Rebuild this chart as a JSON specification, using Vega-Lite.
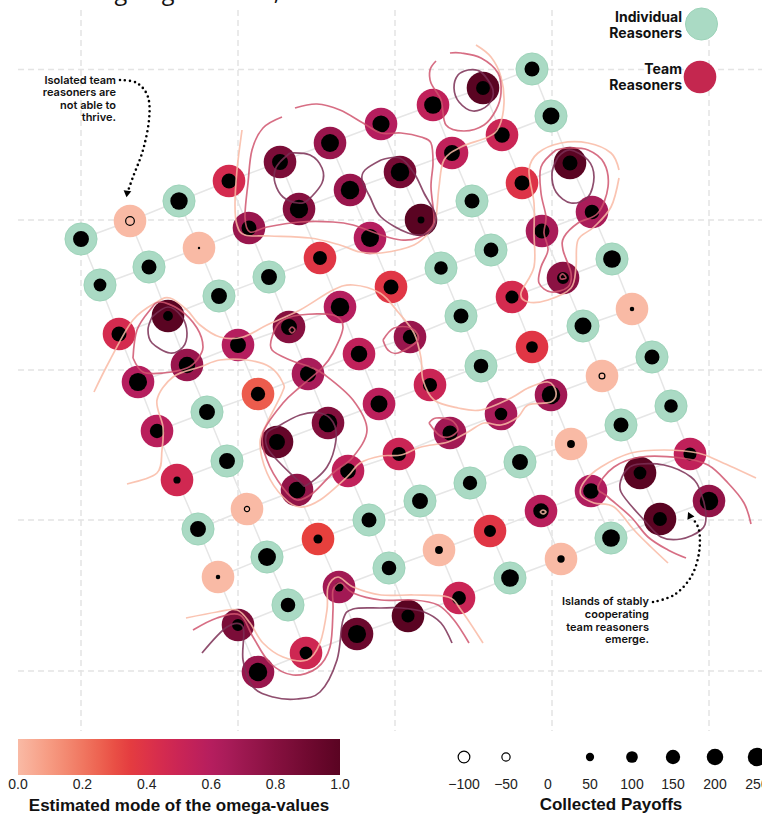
{"$schema":"https://vega.github.io/schema/vega-lite/v6.json","width":762,"height":815,"padding":0,"autosize":{"type":"none"},"background":"white","config":{"view":{"stroke":null},"font":"Liberation Sans"},
"datasets":{
"gridlines":[{"x":81,"y":10,"x2":81,"y2":731},{"x":238,"y":10,"x2":238,"y2":731},{"x":395,"y":10,"x2":395,"y2":731},{"x":552,"y":10,"x2":552,"y2":731},{"x":709,"y":10,"x2":709,"y2":731},{"x":18,"y":69.5,"x2":762,"y2":69.5},{"x":18,"y":220,"x2":762,"y2":220},{"x":18,"y":370,"x2":762,"y2":370},{"x":18,"y":520,"x2":762,"y2":520},{"x":18,"y":671,"x2":762,"y2":671}],
"nodes":[
{"i":0,"j":0,"x":81,"y":239,"t":"I","p":185},{"i":0,"j":1,"x":130,"y":221,"t":"T","o":0,"p":-55},{"i":0,"j":2,"x":179,"y":201,"t":"I","p":220},{"i":0,"j":3,"x":229,"y":181,"t":"T","o":0.45,"p":165},{"i":0,"j":4,"x":280,"y":162,"t":"T","o":0.85,"p":185},{"i":0,"j":5,"x":330,"y":143,"t":"T","o":0.72,"p":235},{"i":0,"j":6,"x":381,"y":124,"t":"T","o":0.6,"p":215},{"i":0,"j":7,"x":433,"y":105,"t":"T","o":0.55,"p":230},{"i":0,"j":8,"x":483,"y":88,"t":"T","o":1,"p":140},{"i":0,"j":9,"x":532,"y":69,"t":"I","p":165},
{"i":1,"j":0,"x":100,"y":285,"t":"I","p":120},{"i":1,"j":1,"x":149,"y":267,"t":"I","p":165},{"i":1,"j":2,"x":199,"y":248,"t":"T","o":0,"p":4},{"i":1,"j":3,"x":249,"y":228,"t":"T","o":0.72,"p":165},{"i":1,"j":4,"x":299,"y":209,"t":"T","o":0.8,"p":245},{"i":1,"j":5,"x":350,"y":190,"t":"T","o":0.72,"p":250},{"i":1,"j":6,"x":400,"y":172,"t":"T","o":0.87,"p":250},{"i":1,"j":7,"x":452,"y":153,"t":"T","o":0.55,"p":185},{"i":1,"j":8,"x":502,"y":135,"t":"T","o":0.5,"p":175},{"i":1,"j":9,"x":551,"y":116,"t":"I","p":210},
{"i":2,"j":0,"x":119,"y":334,"t":"T","o":0.45,"p":165},{"i":2,"j":1,"x":168,"y":316,"t":"T","o":1,"p":70},{"i":2,"j":2,"x":219,"y":296,"t":"I","p":185},{"i":2,"j":3,"x":269,"y":277,"t":"I","p":185},{"i":2,"j":4,"x":320,"y":258,"t":"T","o":0.38,"p":140},{"i":2,"j":5,"x":370,"y":238,"t":"T","o":0.6,"p":235},{"i":2,"j":6,"x":421,"y":220,"t":"T","o":1,"p":35},{"i":2,"j":7,"x":472,"y":201,"t":"I","p":165},{"i":2,"j":8,"x":522,"y":183,"t":"T","o":0.4,"p":165},{"i":2,"j":9,"x":570,"y":163,"t":"T","o":1,"p":165},
{"i":3,"j":0,"x":138,"y":382,"t":"T","o":0.6,"p":240},{"i":3,"j":1,"x":187,"y":365,"t":"T","o":0.72,"p":200},{"i":3,"j":2,"x":238,"y":345,"t":"T","o":0.6,"p":185},{"i":3,"j":3,"x":289,"y":327,"t":"T","o":0.8,"p":185},{"i":3,"j":4,"x":340,"y":307,"t":"T","o":0.6,"p":250},{"i":3,"j":5,"x":391,"y":287,"t":"T","o":0.38,"p":165},{"i":3,"j":6,"x":441,"y":268,"t":"I","p":135},{"i":3,"j":7,"x":491,"y":250,"t":"I","p":160},{"i":3,"j":8,"x":542,"y":231,"t":"T","o":0.65,"p":165},{"i":3,"j":9,"x":592,"y":212,"t":"T","o":0.65,"p":155},
{"i":4,"j":0,"x":157,"y":431,"t":"T","o":0.58,"p":150},{"i":4,"j":1,"x":207,"y":412,"t":"I","p":185},{"i":4,"j":2,"x":258,"y":394,"t":"T","o":0.27,"p":150},{"i":4,"j":3,"x":308,"y":374,"t":"T","o":0.65,"p":190},{"i":4,"j":4,"x":359,"y":354,"t":"T","o":0.55,"p":200},{"i":4,"j":5,"x":410,"y":337,"t":"T","o":0.72,"p":150},{"i":4,"j":6,"x":461,"y":316,"t":"I","p":165},{"i":4,"j":7,"x":512,"y":297,"t":"T","o":0.45,"p":125},{"i":4,"j":8,"x":563,"y":278,"t":"T","o":0.78,"p":105},{"i":4,"j":9,"x":612,"y":259,"t":"I","p":230},
{"i":5,"j":0,"x":177,"y":480,"t":"T","o":0.47,"p":38},{"i":5,"j":1,"x":227,"y":461,"t":"I","p":185},{"i":5,"j":2,"x":277,"y":442,"t":"T","o":0.95,"p":185},{"i":5,"j":3,"x":328,"y":423,"t":"T","o":0.82,"p":250},{"i":5,"j":4,"x":379,"y":404,"t":"T","o":0.57,"p":210},{"i":5,"j":5,"x":430,"y":385,"t":"T","o":0.5,"p":145},{"i":5,"j":6,"x":481,"y":366,"t":"I","p":155},{"i":5,"j":7,"x":532,"y":347,"t":"T","o":0.38,"p":100},{"i":5,"j":8,"x":583,"y":326,"t":"I","p":210},{"i":5,"j":9,"x":632,"y":309,"t":"T","o":0,"p":15},
{"i":6,"j":0,"x":198,"y":529,"t":"I","p":185},{"i":6,"j":1,"x":247,"y":509,"t":"T","o":0,"p":-20},{"i":6,"j":2,"x":297,"y":490,"t":"T","o":0.75,"p":205},{"i":6,"j":3,"x":348,"y":471,"t":"T","o":0.55,"p":180},{"i":6,"j":4,"x":399,"y":454,"t":"T","o":0.5,"p":145},{"i":6,"j":5,"x":450,"y":433,"t":"T","o":0.68,"p":165},{"i":6,"j":6,"x":501,"y":414,"t":"T","o":0.65,"p":115},{"i":6,"j":7,"x":551,"y":395,"t":"T","o":0.68,"p":250},{"i":6,"j":8,"x":602,"y":376,"t":"T","o":0,"p":-25},{"i":6,"j":9,"x":652,"y":357,"t":"I","p":165},
{"i":7,"j":0,"x":218,"y":577,"t":"T","o":0,"p":15},{"i":7,"j":1,"x":267,"y":557,"t":"I","p":235},{"i":7,"j":2,"x":318,"y":539,"t":"T","o":0.33,"p":60},{"i":7,"j":3,"x":369,"y":520,"t":"I","p":165},{"i":7,"j":4,"x":420,"y":501,"t":"I","p":185},{"i":7,"j":5,"x":470,"y":483,"t":"I","p":150},{"i":7,"j":6,"x":520,"y":462,"t":"I","p":185},{"i":7,"j":7,"x":571,"y":444,"t":"T","o":0,"p":45},{"i":7,"j":8,"x":621,"y":425,"t":"I","p":165},{"i":7,"j":9,"x":671,"y":406,"t":"I","p":135},
{"i":8,"j":0,"x":238,"y":625,"t":"T","o":0.85,"p":105},{"i":8,"j":1,"x":288,"y":605,"t":"I","p":155},{"i":8,"j":2,"x":339,"y":587,"t":"T","o":0.68,"p":60},{"i":8,"j":3,"x":389,"y":568,"t":"I","p":155},{"i":8,"j":4,"x":439,"y":550,"t":"T","o":0,"p":45},{"i":8,"j":5,"x":490,"y":531,"t":"T","o":0.38,"p":105},{"i":8,"j":6,"x":541,"y":511,"t":"T","o":0.58,"p":175},{"i":8,"j":7,"x":591,"y":491,"t":"T","o":0.62,"p":180},{"i":8,"j":8,"x":640,"y":473,"t":"T","o":1,"p":120},{"i":8,"j":9,"x":690,"y":454,"t":"T","o":0.55,"p":125},
{"i":9,"j":0,"x":258,"y":672,"t":"T","o":0.72,"p":250},{"i":9,"j":1,"x":306,"y":653,"t":"T","o":0.48,"p":120},{"i":9,"j":2,"x":357,"y":634,"t":"T","o":0.92,"p":240},{"i":9,"j":3,"x":408,"y":616,"t":"T","o":1,"p":125},{"i":9,"j":4,"x":459,"y":598,"t":"T","o":0.5,"p":140},{"i":9,"j":5,"x":510,"y":578,"t":"I","p":230},{"i":9,"j":6,"x":561,"y":559,"t":"T","o":0,"p":40},{"i":9,"j":7,"x":611,"y":538,"t":"I","p":230},{"i":9,"j":8,"x":660,"y":519,"t":"T","o":1,"p":140},{"i":9,"j":9,"x":709,"y":501,"t":"T","o":0.75,"p":250}],
"contours":[
{"id":"a","lev":"low","s":0,"x":242,"y":130},{"id":"a","lev":"low","s":1,"x":237,"y":170},{"id":"a","lev":"low","s":2,"x":235,"y":205},{"id":"a","lev":"low","s":3,"x":237,"y":225},{"id":"a","lev":"low","s":4,"x":245,"y":235},{"id":"a","lev":"low","s":5,"x":270,"y":236},{"id":"a","lev":"low","s":6,"x":310,"y":238},{"id":"a","lev":"low","s":7,"x":340,"y":245},{"id":"a","lev":"low","s":8,"x":360,"y":252},{"id":"a","lev":"low","s":9,"x":381,"y":253},{"id":"a","lev":"low","s":10,"x":414,"y":245},{"id":"a","lev":"low","s":11,"x":431,"y":230},{"id":"a","lev":"low","s":12,"x":436,"y":217},{"id":"a","lev":"low","s":13,"x":439,"y":187},{"id":"a","lev":"low","s":14,"x":444,"y":160},{"id":"a","lev":"low","s":15,"x":461,"y":147},{"id":"a","lev":"low","s":16,"x":488,"y":137},{"id":"a","lev":"low","s":17,"x":499,"y":127},{"id":"a","lev":"low","s":18,"x":504,"y":103},{"id":"a","lev":"low","s":19,"x":501,"y":77},{"id":"a","lev":"low","s":20,"x":491,"y":57},{"id":"a","lev":"low","s":21,"x":476,"y":45},
{"id":"b","lev":"low","s":0,"x":619,"y":170},{"id":"b","lev":"low","s":1,"x":611,"y":153},{"id":"b","lev":"low","s":2,"x":588,"y":143},{"id":"b","lev":"low","s":3,"x":561,"y":143},{"id":"b","lev":"low","s":4,"x":538,"y":153},{"id":"b","lev":"low","s":5,"x":529,"y":170},{"id":"b","lev":"low","s":6,"x":534,"y":203},{"id":"b","lev":"low","s":7,"x":534,"y":233},{"id":"b","lev":"low","s":8,"x":534,"y":267},{"id":"b","lev":"low","s":9,"x":521,"y":293},{"id":"b","lev":"low","s":10,"x":528,"y":302},{"id":"b","lev":"low","s":11,"x":548,"y":300},{"id":"b","lev":"low","s":12,"x":571,"y":288},{"id":"b","lev":"low","s":13,"x":576,"y":267},{"id":"b","lev":"low","s":14,"x":578,"y":240},{"id":"b","lev":"low","s":15,"x":594,"y":227},{"id":"b","lev":"low","s":16,"x":611,"y":207},{"id":"b","lev":"low","s":17,"x":619,"y":178},
{"id":"c","lev":"low","s":0,"x":94,"y":392},{"id":"c","lev":"low","s":1,"x":110,"y":360},{"id":"c","lev":"low","s":2,"x":133,"y":320},{"id":"c","lev":"low","s":3,"x":157,"y":302},{"id":"c","lev":"low","s":4,"x":170,"y":298},{"id":"c","lev":"low","s":5,"x":187,"y":310},{"id":"c","lev":"low","s":6,"x":200,"y":325},{"id":"c","lev":"low","s":7,"x":220,"y":337},{"id":"c","lev":"low","s":8,"x":243,"y":337},{"id":"c","lev":"low","s":9,"x":267,"y":325},{"id":"c","lev":"low","s":10,"x":300,"y":310},{"id":"c","lev":"low","s":11,"x":333,"y":290},{"id":"c","lev":"low","s":12,"x":353,"y":285},{"id":"c","lev":"low","s":13,"x":380,"y":293},{"id":"c","lev":"low","s":14,"x":398,"y":312},{"id":"c","lev":"low","s":15,"x":414,"y":333},{"id":"c","lev":"low","s":16,"x":421,"y":358},{"id":"c","lev":"low","s":17,"x":423,"y":380},{"id":"c","lev":"low","s":18,"x":434,"y":400},{"id":"c","lev":"low","s":19,"x":458,"y":408},{"id":"c","lev":"low","s":20,"x":481,"y":410},{"id":"c","lev":"low","s":21,"x":511,"y":398},{"id":"c","lev":"low","s":22,"x":528,"y":388},{"id":"c","lev":"low","s":23,"x":548,"y":382},{"id":"c","lev":"low","s":24,"x":556,"y":392},{"id":"c","lev":"low","s":25,"x":551,"y":402},{"id":"c","lev":"low","s":26,"x":528,"y":405},{"id":"c","lev":"low","s":27,"x":518,"y":417},{"id":"c","lev":"low","s":28,"x":501,"y":425},{"id":"c","lev":"low","s":29,"x":484,"y":423},{"id":"c","lev":"low","s":30,"x":468,"y":432},{"id":"c","lev":"low","s":31,"x":448,"y":442},{"id":"c","lev":"low","s":32,"x":421,"y":447},{"id":"c","lev":"low","s":33,"x":401,"y":455},{"id":"c","lev":"low","s":34,"x":381,"y":456},{"id":"c","lev":"low","s":35,"x":360,"y":463},{"id":"c","lev":"low","s":36,"x":347,"y":477},{"id":"c","lev":"low","s":37,"x":320,"y":500},{"id":"c","lev":"low","s":38,"x":300,"y":507},{"id":"c","lev":"low","s":39,"x":283,"y":497},{"id":"c","lev":"low","s":40,"x":267,"y":473},{"id":"c","lev":"low","s":41,"x":260,"y":443},{"id":"c","lev":"low","s":42,"x":267,"y":423},{"id":"c","lev":"low","s":43,"x":282,"y":393},{"id":"c","lev":"low","s":44,"x":283,"y":383},{"id":"c","lev":"low","s":45,"x":270,"y":367},{"id":"c","lev":"low","s":46,"x":247,"y":360},{"id":"c","lev":"low","s":47,"x":220,"y":360},{"id":"c","lev":"low","s":48,"x":200,"y":367},{"id":"c","lev":"low","s":49,"x":173,"y":377},{"id":"c","lev":"low","s":50,"x":157,"y":400},{"id":"c","lev":"low","s":51,"x":163,"y":427},{"id":"c","lev":"low","s":52,"x":162,"y":450},{"id":"c","lev":"low","s":53,"x":157,"y":473},{"id":"c","lev":"low","s":54,"x":127,"y":484},
{"id":"d","lev":"low","s":0,"x":540,"y":512},{"id":"d","lev":"low","s":1,"x":543,"y":510},{"id":"d","lev":"low","s":2,"x":546,"y":512},{"id":"d","lev":"low","s":3,"x":543,"y":514},{"id":"d","lev":"low","s":4,"x":540,"y":512},
{"id":"e","lev":"low","s":0,"x":186,"y":618},{"id":"e","lev":"low","s":1,"x":217,"y":612},{"id":"e","lev":"low","s":2,"x":237,"y":610},{"id":"e","lev":"low","s":3,"x":250,"y":623},{"id":"e","lev":"low","s":4,"x":263,"y":643},{"id":"e","lev":"low","s":5,"x":283,"y":657},{"id":"e","lev":"low","s":6,"x":307,"y":660},{"id":"e","lev":"low","s":7,"x":320,"y":643},{"id":"e","lev":"low","s":8,"x":327,"y":610},{"id":"e","lev":"low","s":9,"x":328,"y":587},{"id":"e","lev":"low","s":10,"x":338,"y":577},{"id":"e","lev":"low","s":11,"x":353,"y":587},{"id":"e","lev":"low","s":12,"x":381,"y":595},{"id":"e","lev":"low","s":13,"x":414,"y":595},{"id":"e","lev":"low","s":14,"x":448,"y":597},{"id":"e","lev":"low","s":15,"x":461,"y":610},{"id":"e","lev":"low","s":16,"x":483,"y":643},
{"id":"f","lev":"low","s":0,"x":756,"y":478},{"id":"f","lev":"low","s":1,"x":721,"y":462},{"id":"f","lev":"low","s":2,"x":698,"y":453},{"id":"f","lev":"low","s":3,"x":664,"y":450},{"id":"f","lev":"low","s":4,"x":631,"y":453},{"id":"f","lev":"low","s":5,"x":601,"y":467},{"id":"f","lev":"low","s":6,"x":584,"y":482},{"id":"f","lev":"low","s":7,"x":581,"y":495},{"id":"f","lev":"low","s":8,"x":594,"y":503},{"id":"f","lev":"low","s":9,"x":614,"y":507},{"id":"f","lev":"low","s":10,"x":634,"y":530},{"id":"f","lev":"low","s":11,"x":651,"y":547},{"id":"f","lev":"low","s":12,"x":668,"y":563},
{"id":"g","lev":"mid","s":0,"x":282,"y":117},{"id":"g","lev":"mid","s":1,"x":263,"y":128},{"id":"g","lev":"mid","s":2,"x":252,"y":150},{"id":"g","lev":"mid","s":3,"x":248,"y":183},{"id":"g","lev":"mid","s":4,"x":245,"y":217},{"id":"g","lev":"mid","s":5,"x":250,"y":232},{"id":"g","lev":"mid","s":6,"x":267,"y":227},{"id":"g","lev":"mid","s":7,"x":300,"y":222},{"id":"g","lev":"mid","s":8,"x":333,"y":222},{"id":"g","lev":"mid","s":9,"x":353,"y":225},{"id":"g","lev":"mid","s":10,"x":381,"y":235},{"id":"g","lev":"mid","s":11,"x":401,"y":240},{"id":"g","lev":"mid","s":12,"x":418,"y":238},{"id":"g","lev":"mid","s":13,"x":431,"y":228},{"id":"g","lev":"mid","s":14,"x":434,"y":217},{"id":"g","lev":"mid","s":15,"x":431,"y":187},{"id":"g","lev":"mid","s":16,"x":433,"y":163},{"id":"g","lev":"mid","s":17,"x":431,"y":143},{"id":"g","lev":"mid","s":18,"x":421,"y":137},{"id":"g","lev":"mid","s":19,"x":401,"y":133},{"id":"g","lev":"mid","s":20,"x":381,"y":133},{"id":"g","lev":"mid","s":21,"x":363,"y":123},{"id":"g","lev":"mid","s":22,"x":340,"y":110},{"id":"g","lev":"mid","s":23,"x":317,"y":104},{"id":"g","lev":"mid","s":24,"x":295,"y":108},
{"id":"h","lev":"mid","s":0,"x":436,"y":61},{"id":"h","lev":"mid","s":1,"x":430,"y":70},{"id":"h","lev":"mid","s":2,"x":431,"y":83},{"id":"h","lev":"mid","s":3,"x":441,"y":100},{"id":"h","lev":"mid","s":4,"x":446,"y":125},{"id":"h","lev":"mid","s":5,"x":464,"y":131},{"id":"h","lev":"mid","s":6,"x":484,"y":125},{"id":"h","lev":"mid","s":7,"x":496,"y":110},{"id":"h","lev":"mid","s":8,"x":501,"y":93},{"id":"h","lev":"mid","s":9,"x":498,"y":73},{"id":"h","lev":"mid","s":10,"x":481,"y":58},{"id":"h","lev":"mid","s":11,"x":461,"y":53},{"id":"h","lev":"mid","s":12,"x":450,"y":53},
{"id":"i","lev":"mid","s":0,"x":556,"y":150},{"id":"i","lev":"mid","s":1,"x":541,"y":167},{"id":"i","lev":"mid","s":2,"x":541,"y":193},{"id":"i","lev":"mid","s":3,"x":546,"y":217},{"id":"i","lev":"mid","s":4,"x":544,"y":233},{"id":"i","lev":"mid","s":5,"x":548,"y":250},{"id":"i","lev":"mid","s":6,"x":541,"y":267},{"id":"i","lev":"mid","s":7,"x":539,"y":283},{"id":"i","lev":"mid","s":8,"x":551,"y":292},{"id":"i","lev":"mid","s":9,"x":568,"y":287},{"id":"i","lev":"mid","s":10,"x":571,"y":273},{"id":"i","lev":"mid","s":11,"x":563,"y":250},{"id":"i","lev":"mid","s":12,"x":564,"y":237},{"id":"i","lev":"mid","s":13,"x":578,"y":223},{"id":"i","lev":"mid","s":14,"x":598,"y":213},{"id":"i","lev":"mid","s":15,"x":608,"y":187},{"id":"i","lev":"mid","s":16,"x":604,"y":163},{"id":"i","lev":"mid","s":17,"x":588,"y":150},{"id":"i","lev":"mid","s":18,"x":568,"y":148},{"id":"i","lev":"mid","s":19,"x":556,"y":150},
{"id":"j","lev":"mid","s":0,"x":133,"y":358},{"id":"j","lev":"mid","s":1,"x":137,"y":330},{"id":"j","lev":"mid","s":2,"x":150,"y":310},{"id":"j","lev":"mid","s":3,"x":160,"y":302},{"id":"j","lev":"mid","s":4,"x":180,"y":310},{"id":"j","lev":"mid","s":5,"x":197,"y":328},{"id":"j","lev":"mid","s":6,"x":203,"y":347},{"id":"j","lev":"mid","s":7,"x":197,"y":360},{"id":"j","lev":"mid","s":8,"x":187,"y":368},{"id":"j","lev":"mid","s":9,"x":163,"y":373},{"id":"j","lev":"mid","s":10,"x":143,"y":372},{"id":"j","lev":"mid","s":11,"x":133,"y":358},
{"id":"k","lev":"mid","s":0,"x":272,"y":337},{"id":"k","lev":"mid","s":1,"x":272,"y":350},{"id":"k","lev":"mid","s":2,"x":290,"y":360},{"id":"k","lev":"mid","s":3,"x":310,"y":367},{"id":"k","lev":"mid","s":4,"x":325,"y":375},{"id":"k","lev":"mid","s":5,"x":353,"y":400},{"id":"k","lev":"mid","s":6,"x":367,"y":430},{"id":"k","lev":"mid","s":7,"x":353,"y":457},{"id":"k","lev":"mid","s":8,"x":333,"y":473},{"id":"k","lev":"mid","s":9,"x":313,"y":493},{"id":"k","lev":"mid","s":10,"x":297,"y":500},{"id":"k","lev":"mid","s":11,"x":283,"y":488},{"id":"k","lev":"mid","s":12,"x":267,"y":460},{"id":"k","lev":"mid","s":13,"x":263,"y":433},{"id":"k","lev":"mid","s":14,"x":283,"y":403},{"id":"k","lev":"mid","s":15,"x":300,"y":387},{"id":"k","lev":"mid","s":16,"x":322,"y":368},{"id":"k","lev":"mid","s":17,"x":333,"y":353},{"id":"k","lev":"mid","s":18,"x":343,"y":327},{"id":"k","lev":"mid","s":19,"x":333,"y":315},{"id":"k","lev":"mid","s":20,"x":300,"y":315},{"id":"k","lev":"mid","s":21,"x":280,"y":322},{"id":"k","lev":"mid","s":22,"x":272,"y":337},
{"id":"l","lev":"mid","s":0,"x":383,"y":340},{"id":"l","lev":"mid","s":1,"x":394,"y":328},{"id":"l","lev":"mid","s":2,"x":411,"y":328},{"id":"l","lev":"mid","s":3,"x":418,"y":340},{"id":"l","lev":"mid","s":4,"x":398,"y":353},{"id":"l","lev":"mid","s":5,"x":388,"y":350},{"id":"l","lev":"mid","s":6,"x":383,"y":340},
{"id":"m","lev":"mid","s":0,"x":429,"y":423},{"id":"m","lev":"mid","s":1,"x":436,"y":418},{"id":"m","lev":"mid","s":2,"x":451,"y":420},{"id":"m","lev":"mid","s":3,"x":458,"y":430},{"id":"m","lev":"mid","s":4,"x":449,"y":437},{"id":"m","lev":"mid","s":5,"x":439,"y":435},{"id":"m","lev":"mid","s":6,"x":429,"y":423},
{"id":"n","lev":"mid","s":0,"x":193,"y":630},{"id":"n","lev":"mid","s":1,"x":217,"y":618},{"id":"n","lev":"mid","s":2,"x":240,"y":615},{"id":"n","lev":"mid","s":3,"x":253,"y":637},{"id":"n","lev":"mid","s":4,"x":270,"y":663},{"id":"n","lev":"mid","s":5,"x":293,"y":675},{"id":"n","lev":"mid","s":6,"x":317,"y":668},{"id":"n","lev":"mid","s":7,"x":330,"y":647},{"id":"n","lev":"mid","s":8,"x":333,"y":610},{"id":"n","lev":"mid","s":9,"x":333,"y":590},{"id":"n","lev":"mid","s":10,"x":341,"y":583},{"id":"n","lev":"mid","s":11,"x":353,"y":593},{"id":"n","lev":"mid","s":12,"x":381,"y":600},{"id":"n","lev":"mid","s":13,"x":414,"y":600},{"id":"n","lev":"mid","s":14,"x":438,"y":605},{"id":"n","lev":"mid","s":15,"x":454,"y":620},{"id":"n","lev":"mid","s":16,"x":469,"y":643},
{"id":"o","lev":"mid","s":0,"x":751,"y":524},{"id":"o","lev":"mid","s":1,"x":744,"y":503},{"id":"o","lev":"mid","s":2,"x":728,"y":483},{"id":"o","lev":"mid","s":3,"x":708,"y":465},{"id":"o","lev":"mid","s":4,"x":681,"y":458},{"id":"o","lev":"mid","s":5,"x":641,"y":457},{"id":"o","lev":"mid","s":6,"x":614,"y":467},{"id":"o","lev":"mid","s":7,"x":598,"y":487},{"id":"o","lev":"mid","s":8,"x":608,"y":497},{"id":"o","lev":"mid","s":9,"x":631,"y":517},{"id":"o","lev":"mid","s":10,"x":648,"y":537},{"id":"o","lev":"mid","s":11,"x":668,"y":550},{"id":"o","lev":"mid","s":12,"x":686,"y":558},
{"id":"q","lev":"mid","s":0,"x":289,"y":330},{"id":"q","lev":"mid","s":1,"x":292,"y":327},{"id":"q","lev":"mid","s":2,"x":295,"y":330},{"id":"q","lev":"mid","s":3,"x":292,"y":333},{"id":"q","lev":"mid","s":4,"x":289,"y":330},
{"id":"r","lev":"mid","s":0,"x":560,"y":276},{"id":"r","lev":"mid","s":1,"x":563,"y":274},{"id":"r","lev":"mid","s":2,"x":566,"y":278},{"id":"r","lev":"mid","s":3,"x":561,"y":279},{"id":"r","lev":"mid","s":4,"x":560,"y":276},
{"id":"s","lev":"high","s":0,"x":290,"y":153},{"id":"s","lev":"high","s":1,"x":310,"y":155},{"id":"s","lev":"high","s":2,"x":322,"y":168},{"id":"s","lev":"high","s":3,"x":322,"y":183},{"id":"s","lev":"high","s":4,"x":308,"y":200},{"id":"s","lev":"high","s":5,"x":298,"y":203},{"id":"s","lev":"high","s":6,"x":283,"y":197},{"id":"s","lev":"high","s":7,"x":275,"y":183},{"id":"s","lev":"high","s":8,"x":275,"y":170},{"id":"s","lev":"high","s":9,"x":280,"y":162},{"id":"s","lev":"high","s":10,"x":290,"y":153},
{"id":"t","lev":"high","s":0,"x":381,"y":160},{"id":"t","lev":"high","s":1,"x":400,"y":158},{"id":"t","lev":"high","s":2,"x":414,"y":173},{"id":"t","lev":"high","s":3,"x":424,"y":193},{"id":"t","lev":"high","s":4,"x":436,"y":217},{"id":"t","lev":"high","s":5,"x":428,"y":233},{"id":"t","lev":"high","s":6,"x":408,"y":233},{"id":"t","lev":"high","s":7,"x":381,"y":217},{"id":"t","lev":"high","s":8,"x":370,"y":197},{"id":"t","lev":"high","s":9,"x":362,"y":180},{"id":"t","lev":"high","s":10,"x":365,"y":170},{"id":"t","lev":"high","s":11,"x":381,"y":160},
{"id":"u","lev":"high","s":0,"x":468,"y":70},{"id":"u","lev":"high","s":1,"x":458,"y":75},{"id":"u","lev":"high","s":2,"x":454,"y":88},{"id":"u","lev":"high","s":3,"x":459,"y":102},{"id":"u","lev":"high","s":4,"x":473,"y":111},{"id":"u","lev":"high","s":5,"x":488,"y":105},{"id":"u","lev":"high","s":6,"x":493,"y":90},{"id":"u","lev":"high","s":7,"x":481,"y":72},{"id":"u","lev":"high","s":8,"x":468,"y":70},
{"id":"v","lev":"high","s":0,"x":558,"y":157},{"id":"v","lev":"high","s":1,"x":552,"y":173},{"id":"v","lev":"high","s":2,"x":556,"y":192},{"id":"v","lev":"high","s":3,"x":571,"y":203},{"id":"v","lev":"high","s":4,"x":588,"y":197},{"id":"v","lev":"high","s":5,"x":594,"y":177},{"id":"v","lev":"high","s":6,"x":588,"y":160},{"id":"v","lev":"high","s":7,"x":570,"y":150},{"id":"v","lev":"high","s":8,"x":558,"y":157},
{"id":"w","lev":"high","s":0,"x":152,"y":317},{"id":"w","lev":"high","s":1,"x":148,"y":330},{"id":"w","lev":"high","s":2,"x":152,"y":343},{"id":"w","lev":"high","s":3,"x":170,"y":353},{"id":"w","lev":"high","s":4,"x":183,"y":347},{"id":"w","lev":"high","s":5,"x":187,"y":333},{"id":"w","lev":"high","s":6,"x":182,"y":317},{"id":"w","lev":"high","s":7,"x":168,"y":307},{"id":"w","lev":"high","s":8,"x":152,"y":317},
{"id":"x","lev":"high","s":0,"x":277,"y":427},{"id":"x","lev":"high","s":1,"x":300,"y":415},{"id":"x","lev":"high","s":2,"x":320,"y":413},{"id":"x","lev":"high","s":3,"x":333,"y":422},{"id":"x","lev":"high","s":4,"x":336,"y":440},{"id":"x","lev":"high","s":5,"x":327,"y":467},{"id":"x","lev":"high","s":6,"x":307,"y":485},{"id":"x","lev":"high","s":7,"x":300,"y":482},{"id":"x","lev":"high","s":8,"x":277,"y":460},{"id":"x","lev":"high","s":9,"x":267,"y":447},{"id":"x","lev":"high","s":10,"x":267,"y":433},{"id":"x","lev":"high","s":11,"x":277,"y":427},
{"id":"y","lev":"high","s":0,"x":202,"y":653},{"id":"y","lev":"high","s":1,"x":227,"y":627},{"id":"y","lev":"high","s":2,"x":243,"y":627},{"id":"y","lev":"high","s":3,"x":243,"y":660},{"id":"y","lev":"high","s":4,"x":253,"y":687},{"id":"y","lev":"high","s":5,"x":273,"y":697},{"id":"y","lev":"high","s":6,"x":297,"y":699},{"id":"y","lev":"high","s":7,"x":320,"y":692},{"id":"y","lev":"high","s":8,"x":337,"y":660},{"id":"y","lev":"high","s":9,"x":343,"y":620},{"id":"y","lev":"high","s":10,"x":353,"y":609},{"id":"y","lev":"high","s":11,"x":381,"y":608},{"id":"y","lev":"high","s":12,"x":401,"y":608},{"id":"y","lev":"high","s":13,"x":424,"y":612},{"id":"y","lev":"high","s":14,"x":441,"y":623},{"id":"y","lev":"high","s":15,"x":452,"y":643},
{"id":"z","lev":"high","s":0,"x":623,"y":475},{"id":"z","lev":"high","s":1,"x":634,"y":465},{"id":"z","lev":"high","s":2,"x":664,"y":465},{"id":"z","lev":"high","s":3,"x":691,"y":477},{"id":"z","lev":"high","s":4,"x":701,"y":493},{"id":"z","lev":"high","s":5,"x":706,"y":517},{"id":"z","lev":"high","s":6,"x":701,"y":530},{"id":"z","lev":"high","s":7,"x":681,"y":539},{"id":"z","lev":"high","s":8,"x":661,"y":537},{"id":"z","lev":"high","s":9,"x":644,"y":520},{"id":"z","lev":"high","s":10,"x":621,"y":492},{"id":"z","lev":"high","s":11,"x":623,"y":475}],
"arrows":[{"id":"a1","s":0,"x":120,"y":80},{"id":"a1","s":1,"x":137,"y":83},{"id":"a1","s":2,"x":148,"y":97},{"id":"a1","s":3,"x":149,"y":120},{"id":"a1","s":4,"x":143,"y":150},{"id":"a1","s":5,"x":133,"y":177},{"id":"a1","s":6,"x":128,"y":191},{"id":"a2","s":0,"x":653,"y":602},{"id":"a2","s":1,"x":674,"y":595},{"id":"a2","s":2,"x":691,"y":577},{"id":"a2","s":3,"x":699,"y":553},{"id":"a2","s":4,"x":699,"y":530},{"id":"a2","s":5,"x":692,"y":518}],
"notes":[{"x":116,"y":80.5,"label":"Isolated team"},{"x":116,"y":93,"label":"reasoners are"},{"x":116,"y":105.5,"label":"not able to"},{"x":116,"y":118,"label":"thrive."},{"x":649,"y":602,"label":"Islands of stably"},{"x":649,"y":615,"label":"cooperating"},{"x":649,"y":627.5,"label":"team reasoners"},{"x":649,"y":640,"label":"emerge."}],
"keyText":[{"x":682,"y":18,"label":"Individual"},{"x":682,"y":34,"label":"Reasoners"},{"x":682,"y":70,"label":"Team"},{"x":682,"y":86,"label":"Reasoners"}],
"barLabels":[{"x":18,"y":785,"label":"0.0"},{"x":82.4,"y":785,"label":"0.2"},{"x":146.8,"y":785,"label":"0.4"},{"x":211.2,"y":785,"label":"0.6"},{"x":275.6,"y":785,"label":"0.8"},{"x":340,"y":785,"label":"1.0"}],
"sizeKey":[{"x":464,"y":757,"ly":785,"p":-100,"label":"−100"},{"x":506,"y":757,"ly":785,"p":-50,"label":"−50"},{"x":548,"y":757,"ly":785,"p":0,"label":"0"},{"x":590,"y":757,"ly":785,"p":50,"label":"50"},{"x":632,"y":757,"ly":785,"p":100,"label":"100"},{"x":673,"y":757,"ly":785,"p":150,"label":"150"},{"x":715,"y":757,"ly":785,"p":200,"label":"200"},{"x":757,"y":757,"ly":785,"p":250,"label":"250"}]
},
"encoding":{"x":{"field":"x","type":"quantitative","axis":null,"scale":{"domain":[0,762],"nice":false,"zero":false}},"y":{"field":"y","type":"quantitative","axis":null,"scale":{"domain":[0,815],"nice":false,"zero":false,"reverse":true}}},
"layer":[
{"data":{"name":"gridlines"},"mark":{"type":"rule","color":"#e4e4e4","strokeWidth":1.5,"strokeDash":[6,4]},"encoding":{"x2":{"field":"x2"},"y2":{"field":"y2"}}},
{"data":{"name":"nodes"},"mark":{"type":"line","color":"#e6e6e6","strokeWidth":1.5},"encoding":{"detail":{"field":"i"},"order":{"field":"j"}}},
{"data":{"name":"nodes"},"mark":{"type":"line","color":"#e6e6e6","strokeWidth":1.5},"encoding":{"detail":{"field":"j"},"order":{"field":"i"}}},
{"data":{"name":"nodes"},"transform":[{"filter":"datum.t==='I'"}],"mark":{"type":"point","shape":"circle","filled":true,"opacity":1,"fill":"#aadac4","stroke":"#9dd3b9","strokeWidth":1,"size":1030}},
{"data":{"name":"nodes"},"transform":[{"filter":"datum.t==='T'"}],"mark":{"type":"point","shape":"circle","filled":true,"opacity":1,"size":1063},"encoding":{"color":{"field":"o","type":"quantitative","scale":{"domain":[0,0.33,0.62,1],"range":["#f9baa5","#e7403d","#b01e5f","#5a0422"]},"legend":{"orient":"none","legendX":18,"legendY":739,"direction":"horizontal","title":"Estimated mode of the omega-values","titleOrient":"bottom","titleAnchor":"middle","titleFontSize":17,"titleFontWeight":"bold","titleColor":"#111111","titleFont":"Liberation Sans","titleLimit":400,"titlePadding":3,"gradientLength":322,"gradientThickness":36,"labelFontSize":14,"labelOpacity":0,"labelFont":"Liberation Sans","labelOffset":6,"values":[0,0.2,0.4,0.6,0.8,1],"format":".1f","labelOverlap":false}}}},
{"data":{"name":"barLabels"},"mark":{"type":"text","align":"center","baseline":"middle","font":"Liberation Sans","fontSize":14,"color":"#222222"},"encoding":{"text":{"field":"label"}}},
{"data":{"name":"nodes"},"transform":[{"filter":"datum.p>=0"}],"mark":{"type":"point","shape":"circle","filled":true,"opacity":1,"color":"#000000"},"encoding":{"size":{"field":"p","type":"quantitative","legend":null,"scale":{"domain":[-100,0,250],"range":[137,0,342]}}}},
{"data":{"name":"nodes"},"transform":[{"filter":"datum.p<0"}],"mark":{"type":"point","shape":"circle","filled":false,"opacity":1,"stroke":"#000000","strokeWidth":1.2},"encoding":{"size":{"field":"p","type":"quantitative","legend":null,"scale":{"domain":[-100,0,250],"range":[137,0,342]}}}},
{"data":{"name":"contours"},"mark":{"type":"line","interpolate":"cardinal","strokeWidth":1.7,"opacity":0.85},"encoding":{"detail":{"field":"id"},"order":{"field":"s"},"stroke":{"field":"lev","type":"nominal","legend":null,"scale":{"domain":["low","mid","high"],"range":["#f9baa5","#d0556f","#7b2f55"]}}}},
{"data":{"name":"arrows"},"mark":{"type":"line","interpolate":"cardinal","color":"#000000","strokeWidth":2.6,"strokeCap":"round","strokeDash":[0,5]},"encoding":{"detail":{"field":"id"},"order":{"field":"s"}}},
{"data":{"values":[{"x":127,"y":194}]},"mark":{"type":"point","shape":"triangle-down","filled":true,"opacity":1,"color":"#000000","size":60,"angle":8}},
{"data":{"values":[{"x":689.5,"y":515}]},"mark":{"type":"point","shape":"triangle-up","filled":true,"opacity":1,"color":"#000000","size":60,"angle":-25}},
{"data":{"name":"notes"},"mark":{"type":"text","align":"right","baseline":"middle","font":"Inter","fontSize":11,"fontWeight":600,"color":"#111111"},"encoding":{"text":{"field":"label"}}},
{"data":{"name":"keyText"},"mark":{"type":"text","align":"right","baseline":"middle","font":"Inter","fontSize":14,"fontWeight":700,"color":"#111111"},"encoding":{"text":{"field":"label"}}},
{"data":{"values":[{"x":701.5,"y":24}]},"mark":{"type":"point","shape":"circle","filled":true,"opacity":1,"fill":"#aadac4","stroke":"#9dd3b9","strokeWidth":1,"size":1030}},
{"data":{"values":[{"x":700,"y":77}]},"mark":{"type":"point","shape":"circle","filled":true,"opacity":1,"fill":"#c4274f","size":1063}},
{"data":{"values":[{"x":86,"y":0,"label":"ongoing coalition,"}]},"mark":{"type":"text","align":"left","baseline":"alphabetic","font":"Open Sans","fontSize":23.5,"color":"#111111"},"encoding":{"text":{"field":"label"}}},
{"data":{"name":"sizeKey"},"transform":[{"filter":"datum.p>=0"}],"mark":{"type":"point","shape":"circle","filled":true,"opacity":1,"color":"#000000"},"encoding":{"size":{"field":"p","type":"quantitative","legend":null,"scale":{"domain":[-100,0,250],"range":[137,0,342]}}}},
{"data":{"name":"sizeKey"},"transform":[{"filter":"datum.p<0"}],"mark":{"type":"point","shape":"circle","filled":false,"opacity":1,"stroke":"#000000","strokeWidth":1.2},"encoding":{"size":{"field":"p","type":"quantitative","legend":null,"scale":{"domain":[-100,0,250],"range":[137,0,342]}}}},
{"data":{"name":"sizeKey"},"mark":{"type":"text","align":"center","baseline":"middle","font":"Liberation Sans","fontSize":14,"color":"#222222"},"encoding":{"y":{"field":"ly","type":"quantitative"},"text":{"field":"label"}}},
{"data":{"values":[{"x":611,"y":805,"label":"Collected Payoffs"}]},"mark":{"type":"text","align":"center","baseline":"middle","font":"Liberation Sans","fontSize":17,"fontWeight":"bold","color":"#111111"},"encoding":{"text":{"field":"label"}}}
]}
